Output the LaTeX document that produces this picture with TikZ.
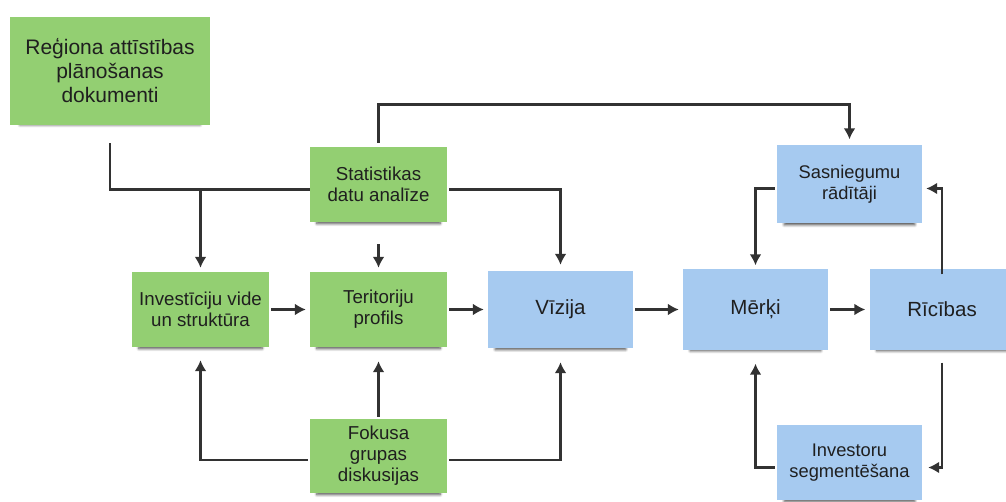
\documentclass[tikz,border=0pt]{standalone}
\usepackage{fontspec}
\setmainfont{Liberation Sans}
\usetikzlibrary{shapes,arrows.meta,shadows,shadows.blur}
\definecolor{notegreen}{RGB}{147,207,114}
\definecolor{noteblue}{RGB}{166,202,240}
\definecolor{inkgray}{RGB}{50,50,50}
\tikzstyle{note} = [rectangle, text=black!88, align=center, inner sep=2pt,
blur shadow={shadow xshift=0pt, shadow yshift=-6pt, shadow scale=0.9, shadow opacity=70, shadow blur radius=3pt, shadow blur steps=6}]
\tikzstyle{greennote} = [note, fill=notegreen, minimum width=137pt, minimum height=75pt, font=\fontsize{18.7}{21}\selectfont]
\tikzstyle{bluenote} = [note, fill=noteblue, minimum width=145pt, minimum height=78pt, font=\fontsize{18.3}{21}\selectfont]
\tikzstyle{line} = [draw, inkgray, line width=2.6pt, -{Latex[length=11pt,width=12pt]}, shorten >=4pt, shorten <=2pt]
\tikzstyle{wire} = [draw, inkgray, line width=2.6pt]

\begin{document}
\begin{tikzpicture}[x=1pt,y=1pt]
	\useasboundingbox (0,0) rectangle (1006,501);
	% Place nodes
	\node [greennote, minimum width=200pt, minimum height=108pt, font=\fontsize{21}{24}\selectfont] (regionDocs) at (110,430) {Reģiona attīstības\\plānošanas\\dokumenti};
	% Middle row
	\node [greennote] (terrProfile) at (378.5,191.5) {Teritoriju\\profils};
	\node [greennote, left of=terrProfile, node distance=178pt] (investEnv) {Investīciju vide\\un struktūra}; \path [line] (investEnv) -- (terrProfile);
	\node [bluenote, right of=terrProfile, node distance=182pt, minimum height=77pt, font=\fontsize{20.5}{24}\selectfont] (vision) {Vīzija}; \path [line] (terrProfile) -- (vision);
	\node [bluenote, right of=vision, node distance=195pt, minimum height=80pt, font=\fontsize{20.5}{24}\selectfont] (goals) {Mērķi}; \path [line] (vision) -- (goals);
	\node [bluenote, right of=goals, node distance=186.5pt, minimum height=80pt, font=\fontsize{20.5}{24}\selectfont] (actions) {Rīcības}; \path [line] (goals) -- (actions);
	% Upper level
	\node [greennote, above of=terrProfile, node distance=125pt] (statAnalysis) {Statistikas\\datu analīze};
	\coordinate (statLeft) at ([yshift=-5pt]statAnalysis.west);
	\coordinate (statRight) at ([yshift=-5pt]statAnalysis.east);
	\path [line, shorten <=22pt] (statAnalysis) -- (terrProfile);
	\path [wire] ([yshift=-18pt]regionDocs.south) |- (statLeft);
	\path [line] (investEnv.north |- statLeft) -- (investEnv.north);
	\path [line, shorten >=6pt] (statRight) -| (vision.north);
	\node [bluenote, right of=statAnalysis, node distance=471pt] (results) {Sasniegumu\\rādītāji};
	\path [line, shorten <=4pt, shorten >=6pt] (statAnalysis.north) -- ++(0,42pt) -| (results.north);
	\path [line] ([yshift=-4pt]results.west) -| (goals.north);
	\path [line, shorten <=-5pt] (actions.north) |- ([yshift=-4pt]results.east);
	% Lower level
	\node [greennote, below of=terrProfile, node distance=146.5pt, minimum height=74pt] (focusGroups) {Fokusa\\grupas\\diskusijas};
	\path [line, shorten >=14pt] (focusGroups) -- (terrProfile);
	\path [line, shorten >=13pt] ([yshift=-4pt]focusGroups.west) -| (investEnv.south);
	\path [line, shorten >=14pt] ([yshift=-4pt]focusGroups.east) -| (vision.south);
	\node [bluenote, below of=results, node distance=278pt, minimum height=75pt] (segments) {Investoru\\segmentēšana};
	\path [line, shorten <=13pt, shorten >=6pt] (actions.south) |- ([yshift=-5pt]segments.east);
	\path [line, shorten >=14pt] ([yshift=-5pt]segments.west) -| (goals.south);
\end{tikzpicture}
\end{document}
